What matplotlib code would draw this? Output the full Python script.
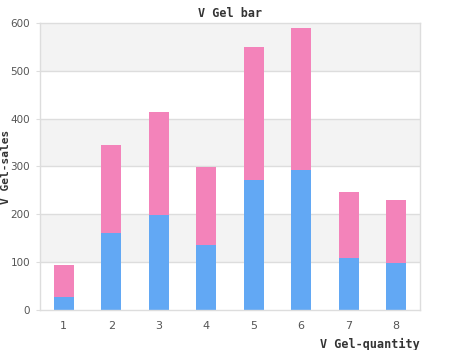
import matplotlib
matplotlib.use("Agg")
from matplotlib import pyplot as plt
import numpy as np

# quantity groups and the two stacked sales series
quantity = [1, 2, 3, 4, 5, 6, 7, 8]
sales_low = [27, 161, 199, 136, 272, 293, 109, 98]
sales_high = [67, 184, 215, 163, 278, 297, 138, 132]
y_ticks = [0, 100, 200, 300, 400, 500, 600]

blue = "#62a8f4"
pink = "#f383ba"
grid_col = "#dddddd"
mono = "DejaVu Sans Mono"

fig = plt.figure(figsize=(4.5, 3.5), dpi=100)
ax = fig.add_axes([40 / 450, 40 / 350, 380 / 450, 287 / 350])

# alternating bands between grid lines
for i in range(len(y_ticks) - 1):
    if i % 2 == 1:
        ax.axhspan(y_ticks[i], y_ticks[i + 1], color="#f3f3f3", zorder=0, lw=0)
for t in y_ticks[1:-1]:
    ax.axhline(t, color=grid_col, lw=1, zorder=1)

x = np.array(quantity)
ax.bar(x, sales_low, width=0.42, color=blue, zorder=2)
ax.bar(x, sales_high, width=0.42, bottom=sales_low, color=pink, zorder=2)

ax.set_xlim(0.5, 8.5)
ax.set_ylim(0, 600)
ax.set_xticks(quantity)
ax.set_yticks(y_ticks)
ax.tick_params(axis="y", length=3, color=grid_col, labelsize=7.5, labelcolor="#555555", pad=4)
ax.tick_params(axis="x", length=0, labelsize=8, labelcolor="#555555", pad=8)
for s in ax.spines.values():
    s.set_color(grid_col)
    s.set_linewidth(1)

ax.set_title("V Gel bar", fontfamily=mono, fontweight="bold", fontsize=8.5, color="#333333", pad=4)
# axis names placed on the figure, the y one tucked at the left edge
fig.text(6 / 450, 1 - 167 / 350, "V Gel-sales", fontfamily=mono, fontweight="bold",
         fontsize=8, color="#333333", rotation=90, ha="center", va="center")
fig.text(420 / 450, 1 - 344 / 350, "V Gel-quantity", fontfamily=mono, fontweight="bold",
         fontsize=8.5, color="#333333", ha="right", va="center")

fig.savefig("out.png", dpi=100)
